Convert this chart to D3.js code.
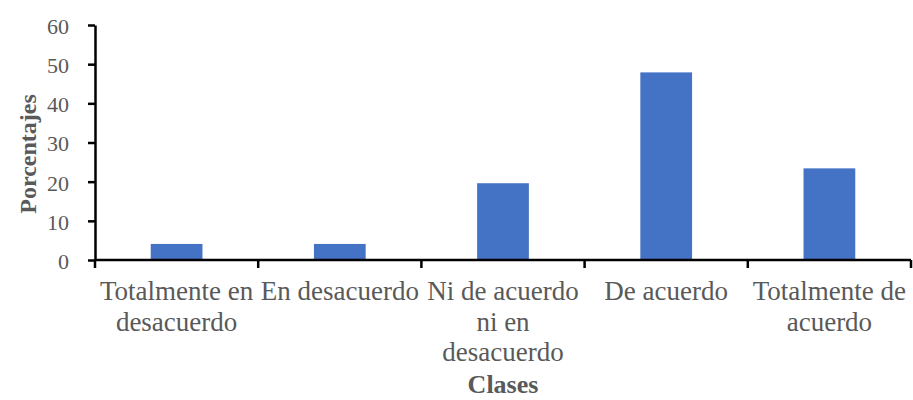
<!DOCTYPE html>
<html>
<head>
<meta charset="utf-8">
<script src="https://cdn.jsdelivr.net/npm/d3@7"></script>
<style>
  html, body { margin: 0; padding: 0; background: #fff; }
  svg { display: block; }
</style>
</head>
<body>
<svg id="chart" width="913" height="400"></svg>
<script>
// Response categories (each entry is the list of wrapped label lines)
const categories = [
  ["Totalmente en", "desacuerdo"],
  ["En desacuerdo"],
  ["Ni de acuerdo", "ni en", "desacuerdo"],
  ["De acuerdo"],
  ["Totalmente de", "acuerdo"]
];
// Percentage of responses per category
const percentages = [4.1, 4.1, 19.6, 47.9, 23.4];
// Y-axis tick values
const yTicks = [0, 10, 20, 30, 40, 50, 60];

const svg = d3.select("#chart");
const margin = { left: 95, right: 2, top: 25, bottom: 140 };
const W = 913, H = 400;
const plotW = W - margin.left - margin.right;
const plotH = H - margin.top - margin.bottom;

const textColor = "#595959";
const font = "'Liberation Serif', 'Times New Roman', serif";

const keys = categories.map((c, i) => i);
const x = d3.scaleBand().domain(keys).range([0, plotW]).padding(0);
const y = d3.scaleLinear().domain([0, 60]).range([plotH, 0]);

const g = svg.append("g").attr("transform", `translate(${margin.left},${margin.top})`);

// Bars
const barW = x.bandwidth() * 0.317;
g.selectAll("rect.bar")
  .data(percentages)
  .join("rect")
  .attr("class", "bar")
  .attr("x", (d, i) => x(i) + x.bandwidth() / 2 - barW / 2)
  .attr("y", d => y(d))
  .attr("width", barW)
  .attr("height", d => y(0) - y(d))
  .attr("fill", "#4472C4");

// Y axis
const yAxis = g.append("g")
  .call(d3.axisLeft(y).tickValues(yTicks).tickSize(7).tickPadding(19).tickSizeOuter(0));
yAxis.select(".domain").attr("stroke", "#000").attr("stroke-width", 2.5);
yAxis.selectAll(".tick line").attr("stroke", "#000").attr("stroke-width", 2.5);
yAxis.selectAll(".tick text")
  .attr("fill", textColor)
  .style("font-family", font)
  .style("font-size", "22px")
  .attr("dy", "0.38em");

// X axis: ticks at category boundaries
const bounds = d3.range(categories.length + 1).map(i => i * x.step());
const xg = g.append("g").attr("transform", `translate(0,${plotH})`);
xg.append("line")
  .attr("x1", 0).attr("x2", plotW)
  .attr("stroke", "#000").attr("stroke-width", 2.5);
xg.selectAll("line.tk")
  .data(bounds)
  .join("line")
  .attr("class", "tk")
  .attr("x1", d => d).attr("x2", d => d)
  .attr("y1", 0).attr("y2", 8)
  .attr("stroke", "#000").attr("stroke-width", 2.5);

// Category labels
const labels = xg.selectAll("text.cat")
  .data(categories)
  .join("text")
  .attr("class", "cat")
  .attr("text-anchor", "middle")
  .attr("fill", textColor)
  .style("font-family", font)
  .style("font-size", "27px")
  .attr("transform", (d, i) => `translate(${x(i) + x.bandwidth() / 2},0)`);
labels.selectAll("tspan")
  .data(d => d)
  .join("tspan")
  .attr("x", 0)
  .attr("y", (d, j) => 40 + j * 30.5)
  .text(d => d);

// Axis titles
svg.append("text")
  .attr("x", 503).attr("y", 393)
  .attr("text-anchor", "middle")
  .attr("fill", textColor)
  .style("font-family", font)
  .style("font-size", "26px")
  .style("font-weight", "bold")
  .text("Clases");

svg.append("text")
  .attr("transform", "translate(36,154) rotate(-90)")
  .attr("text-anchor", "middle")
  .attr("fill", textColor)
  .style("font-family", font)
  .style("font-size", "24px")
  .style("font-weight", "bold")
  .text("Porcentajes");
</script>
</body>
</html>
